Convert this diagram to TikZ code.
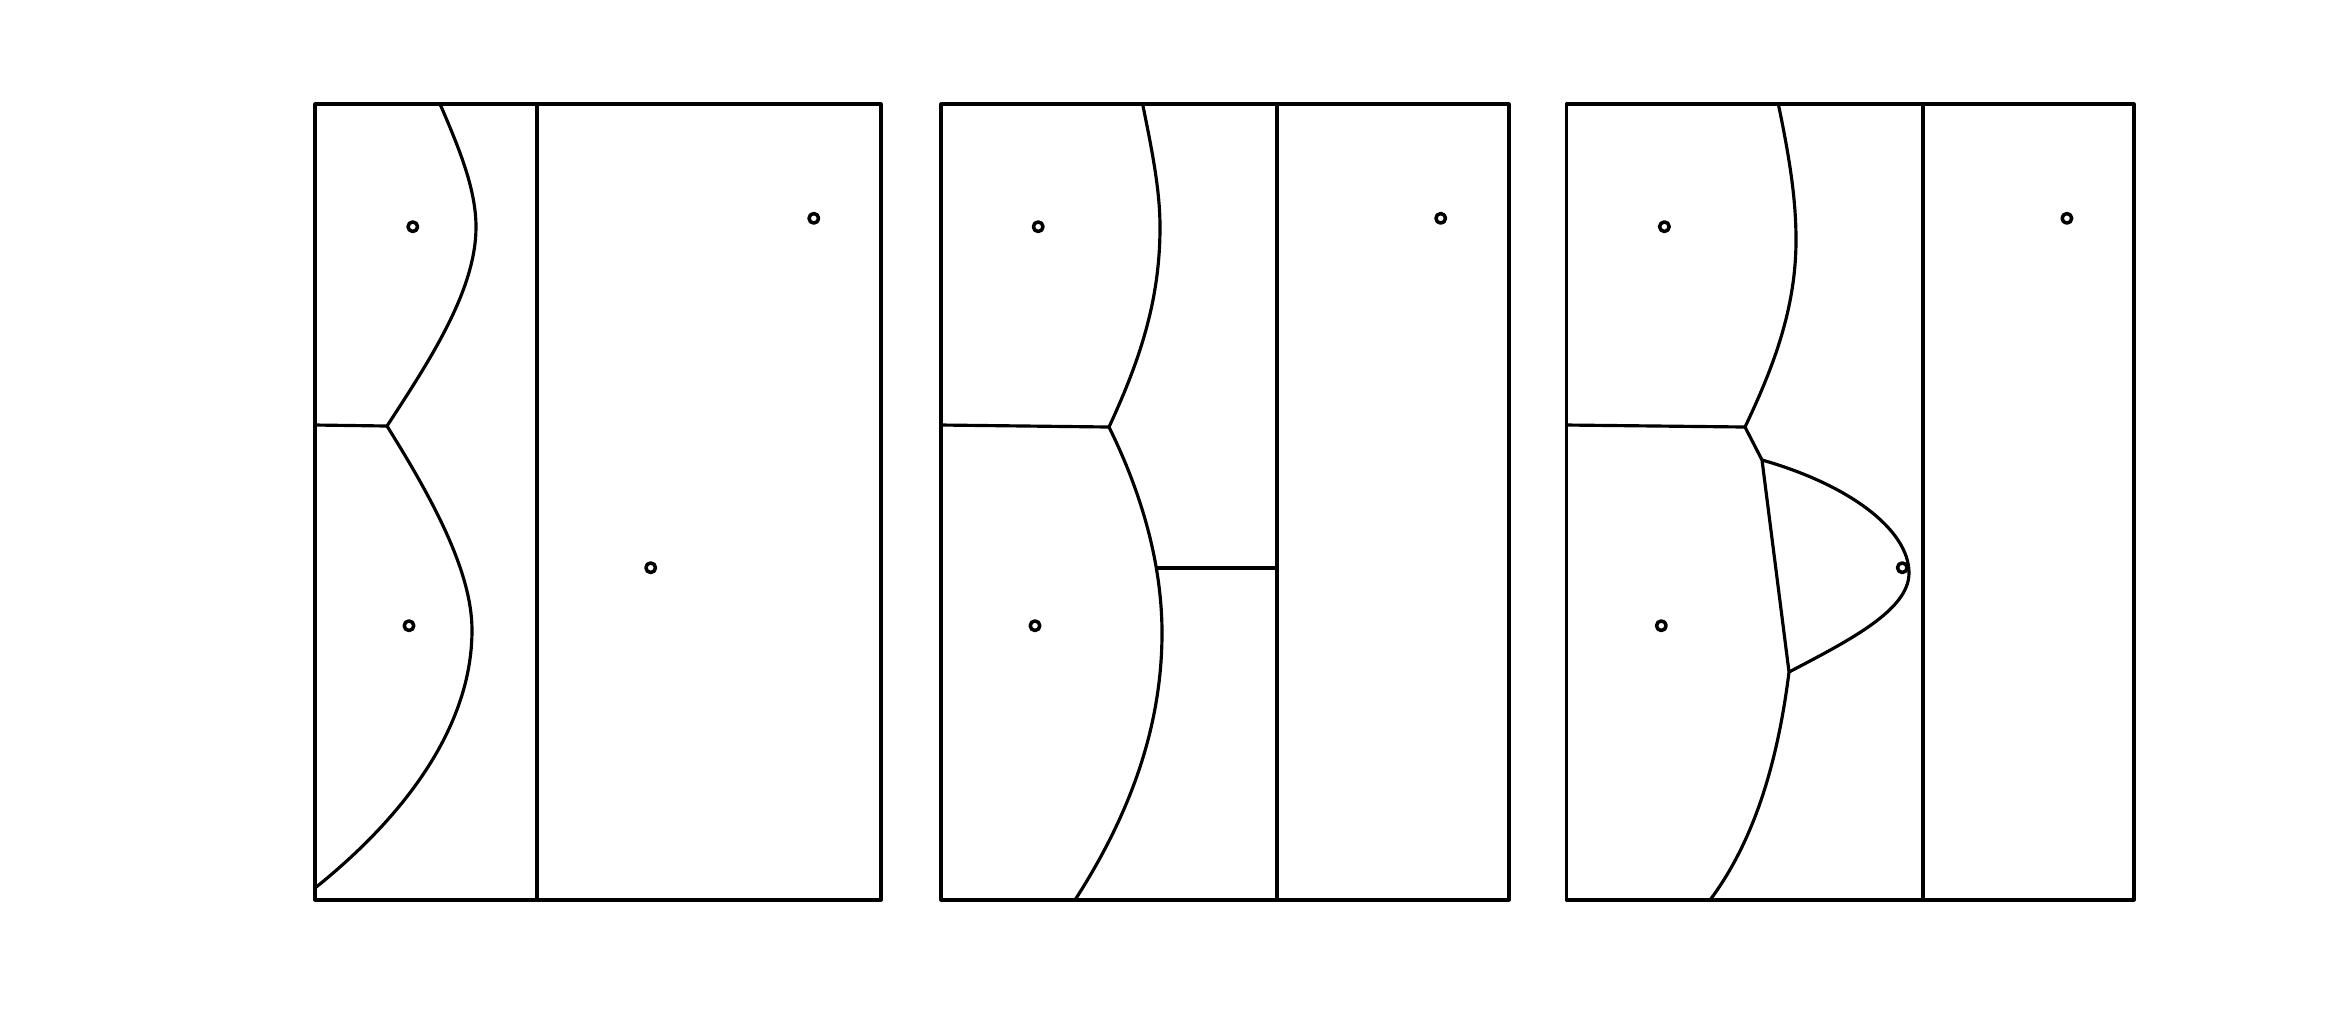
\documentclass[tikz,border=0pt]{standalone}
\begin{document}
\begin{tikzpicture}[x=0.01cm,y=-0.01cm,line join=round,
  site/.style={line width=1pt},
  edge/.style={line width=0.9pt}]
\useasboundingbox (0,0) rectangle (2336,1032);
% ---------- Panel 1 ----------
\draw[edge] (315,104) rectangle (881,900);
\draw[edge] (537,104) -- (537,900);
\coordinate (a1) at (387,426);
\draw[edge] (315,425) -- (a1);
\draw[edge] (440,104) .. controls (460,150) and (476,190) .. (476,227)
                      .. controls (476,290) and (430,360) .. (a1);
\draw[edge] (a1) .. controls (430,495) and (472,570) .. (472,630)
                 .. controls (472,730) and (400,820) .. (315,888);
\foreach \p in {(412.8,226.7),(813.8,218.3),(650.7,567.7),(409,625.7)}
  \draw[site] \p circle[radius=4.8];
% ---------- Panel 2 ----------
\draw[edge] (941,104) rectangle (1509,900);
\draw[edge] (1277,104) -- (1277,900);
\coordinate (b1) at (1109,427);
\coordinate (b2) at (1157.3,568);
\draw[edge] (941,425) -- (b1);
\draw[edge] (1142.6,104) .. controls (1152,150) and (1160,190) .. (1160,227)
                         .. controls (1160,300) and (1140,360) .. (b1);
\draw[edge] (b1) .. controls (1145,500) and (1162,570) .. (1162,633)
                 .. controls (1162,740) and (1120,830) .. (1075,900);
\draw[edge] (b2) -- (1277,568);
\foreach \p in {(1038.2,226.7),(1440.7,218.3),(1035,625.7)}
  \draw[site] \p circle[radius=4.8];
% ---------- Panel 3 ----------
\draw[edge] (1566.5,104) rectangle (2134,900);
\draw[edge] (1923,104) -- (1923,900);
\coordinate (c1) at (1745,427);
\coordinate (c2) at (1762,460);
\coordinate (c3) at (1789,672);
\draw[edge] (1566.5,425) -- (c1);
\draw[edge] (1778.3,104) .. controls (1790,160) and (1796,200) .. (1796,240)
                         .. controls (1796,310) and (1772,370) .. (c1);
\draw[edge] (c1) -- (c2) -- (c3);
\draw[edge] (c2) .. controls (1850,485) and (1909,530) .. (1909,573)
                 .. controls (1909,610) and (1850,640) .. (c3);
\draw[edge] (c3) .. controls (1778,760) and (1755,840) .. (1710,900);
\foreach \p in {(1664.4,226.7),(2066.9,218.3),(1902.3,567.7),(1661.3,625.7)}
  \draw[site] \p circle[radius=4.8];
\end{tikzpicture}
\end{document}
